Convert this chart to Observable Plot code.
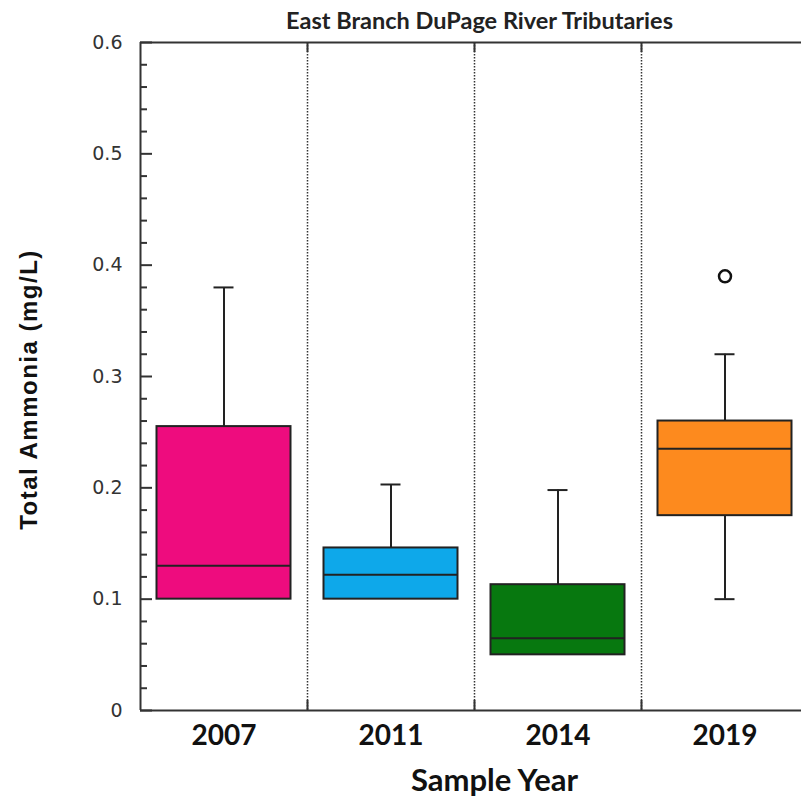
<!DOCTYPE html>
<html>
<head>
<meta charset="utf-8">
<script src="https://cdn.jsdelivr.net/npm/d3@7"></script>
<script src="https://cdn.jsdelivr.net/npm/@observablehq/plot@0.6"></script>
<style>
  html, body { margin: 0; padding: 0; background: #fff; }
  #chart svg { display: block; }
</style>
</head>
<body>
<div id="chart"></div>
<script>
// ---- data ----
const years = ["2007", "2011", "2014", "2019"];
const whiskerLow = [0.10, 0.10, 0.05, 0.10];
const q1 = [0.10, 0.10, 0.05, 0.175];
const median = [0.13, 0.122, 0.065, 0.235];
const q3 = [0.255, 0.146, 0.113, 0.26];
const whiskerHigh = [0.38, 0.203, 0.198, 0.32];
const boxColors = ["#EE0C7E", "#0EA8EA", "#07780F", "#FD8A1E"];
const outlierYears = ["2019"];
const outlierValues = [0.39];
const yMajorTicks = [0, 0.1, 0.2, 0.3, 0.4, 0.5, 0.6];
const yMinorTicks = [0.02,0.04,0.06,0.08,0.12,0.14,0.16,0.18,0.22,0.24,0.26,0.28,0.32,0.34,0.36,0.38,0.42,0.44,0.46,0.48,0.52,0.54,0.56,0.58];
const title = "East Branch DuPage River Tributaries";
const yLabel = "Total Ammonia (mg/L)";
const xLabel = "Sample Year";

// ---- layout ----
const W = 801, H = 804;
const mL = 140, mT = 42, mB = 94, mR = -7;
const plotW = W - mL - mR;
const plotH = H - mT - mB;
const bandW = plotW / years.length;
const boxInset = 16.5;
const capInset = (bandW - 20) / 2;

const rows = years.map((y, i) => ({
  year: y, lo: whiskerLow[i], q1: q1[i], med: median[i], q3: q3[i], hi: whiskerHigh[i], color: boxColors[i]
}));
const outliers = outlierYears.map((y, i) => ({year: y, value: outlierValues[i]}));
const lowWhiskers = rows.filter(d => d.lo < d.q1);

const chart = Plot.plot({
  width: W, height: H,
  marginLeft: mL, marginRight: mR, marginTop: mT, marginBottom: mB,
  x: {domain: years, padding: 0, axis: null},
  y: {domain: [0, 0.6], axis: null},
  style: {background: "#fff", overflow: "visible"},
  marks: [
    // dotted dividers between groups
    Plot.ruleX(years.slice(0, -1), {x: d => d, dx: bandW / 2, stroke: "#333", strokeWidth: 1.5, strokeDasharray: "1.5,1.5"}),
    Plot.ruleX(years.slice(0, -1), {x: d => d, dx: bandW / 2, stroke: "#333", strokeWidth: 2, insetBottom: plotH - 10}),
    Plot.ruleX(years.slice(0, -1), {x: d => d, dx: bandW / 2, stroke: "#333", strokeWidth: 2, insetTop: plotH - 10}),
    // y ticks (inward)
    Plot.ruleY(yMajorTicks, {y: d => d, stroke: "#333", strokeWidth: 2, insetRight: plotW - 12}),
    Plot.ruleY(yMinorTicks, {y: d => d, stroke: "#333", strokeWidth: 2, insetRight: plotW - 7}),
    // whiskers
    Plot.ruleX(rows, {x: "year", y1: "q3", y2: "hi", stroke: "#222", strokeWidth: 2}),
    Plot.ruleX(lowWhiskers, {x: "year", y1: "lo", y2: "q1", stroke: "#222", strokeWidth: 2}),
    Plot.tickY(rows, {x: "year", y: "hi", stroke: "#222", strokeWidth: 2, inset: capInset}),
    Plot.tickY(lowWhiskers, {x: "year", y: "lo", stroke: "#222", strokeWidth: 2, inset: capInset}),
    // boxes
    Plot.rectY(rows, {x: "year", y1: "q1", y2: "q3", fill: "color", stroke: "#222", strokeWidth: 2, insetLeft: boxInset, insetRight: boxInset}),
    Plot.tickY(rows, {x: "year", y: "med", stroke: "#222", strokeWidth: 2, inset: boxInset}),
    // outliers
    Plot.dot(outliers, {x: "year", y: "value", r: 6, stroke: "#111", strokeWidth: 2.5, fill: "#fff"}),
    // frame lines
    Plot.ruleY([0, 0.6], {stroke: "#333", strokeWidth: 2}),
    Plot.ruleX([years[0]], {x: d => d, dx: -bandW / 2, stroke: "#333", strokeWidth: 2}),
    // axes labels
    Plot.axisY({ticks: yMajorTicks, tickSize: 0, tickPadding: 18, tickFormat: d => d === 0 ? "0" : d3.format(".1f")(d),
      fontSize: 19, fontFamily: "DejaVu Sans", fill: "#333"}),
    Plot.axisX({tickSize: 0, tickPadding: 15, fontSize: 28, fontWeight: "bold", fontFamily: "Lato", fill: "#111", label: null}),
    // title and axis titles
    Plot.text([title], {frameAnchor: "top", dx: 5, dy: -14, fontSize: 23.5, fontWeight: "bold", fontFamily: "Lato", fill: "#222", lineAnchor: "bottom"}),
    Plot.text([yLabel], {frameAnchor: "left", dx: -111, dy: 13, rotate: -90, textAnchor: "middle", fontSize: 24, fontWeight: "bold", fontFamily: "Liberation Sans", fill: "#111", className: "ylab"}),
    Plot.text([xLabel], {frameAnchor: "bottom", dx: 20, dy: 80, fontSize: 31, fontWeight: "bold", fontFamily: "Lato", fill: "#111"})
  ]
});
d3.select(chart).selectAll(".ylab text").style("letter-spacing", "1.5px");
document.getElementById("chart").appendChild(chart);
</script>
</body>
</html>
